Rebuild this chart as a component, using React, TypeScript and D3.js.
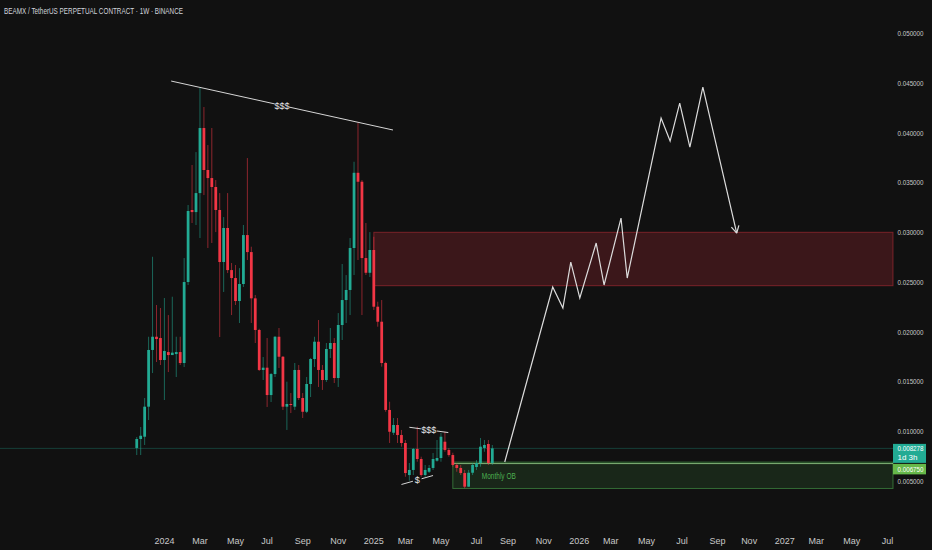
import * as d3 from 'd3';

const TITLE = 'BEAMX / TetherUS PERPETUAL CONTRACT · 1W · BINANCE';

// weekly candles, first bar opens on this Monday
const FIRST_WEEK = '2023-11-13';

const OPEN = [
  0.00832, 0.00922, 0.00945, 0.01247, 0.01817, 0.0195, 0.01937, 0.01716, 0.01796, 0.01766,
  0.01776, 0.01796, 0.01686, 0.025, 0.03224, 0.03203, 0.03394, 0.04048, 0.03626, 0.03545,
  0.03455, 0.03224, 0.02701, 0.03043, 0.0262, 0.0254, 0.02309, 0.0248, 0.02972, 0.02801,
  0.02336, 0.02018, 0.01616, 0.01639, 0.01364, 0.01575, 0.0195, 0.01749, 0.01247, 0.01274,
  0.01247, 0.01616, 0.01334, 0.01196, 0.01475, 0.01726, 0.019, 0.01616, 0.01515, 0.01827,
  0.01887, 0.01535, 0.02068, 0.02319, 0.0242, 0.02842, 0.03598, 0.03508, 0.02741, 0.02593,
  0.02822, 0.02252, 0.02101, 0.01686, 0.01214, 0.00985, 0.01063, 0.00962, 0.00882, 0.0056,
  0.00611, 0.00822, 0.00721, 0.0056, 0.00593, 0.00631, 0.00704, 0.00731, 0.00895, 0.00812,
  0.00761, 0.00661, 0.00631, 0.0058, 0.00443, 0.00583, 0.00641, 0.00681, 0.00832, 0.00872,
  0.00681,
];
const HIGH = [
  0.00942, 0.01043, 0.01334, 0.0195, 0.02754, 0.02269, 0.02239, 0.02339, 0.02168, 0.02352,
  0.0195, 0.0195, 0.02741, 0.03274, 0.03676, 0.03806, 0.0445, 0.04259, 0.03877, 0.04048,
  0.03525, 0.03394, 0.03153, 0.03394, 0.02691, 0.02671, 0.0264, 0.03073, 0.03746, 0.02855,
  0.0237, 0.0203, 0.01746, 0.01937, 0.01585, 0.01957, 0.02038, 0.01756, 0.01498, 0.01384,
  0.01686, 0.01666, 0.01384, 0.01545, 0.01736, 0.0195, 0.02118, 0.01666, 0.01887, 0.02038,
  0.01937, 0.02188, 0.02681, 0.0257, 0.02942, 0.03709, 0.04098, 0.03525, 0.03093, 0.03002,
  0.02955, 0.02302, 0.02319, 0.01699, 0.01297, 0.01133, 0.01133, 0.01013, 0.00912, 0.00681,
  0.00832, 0.01046, 0.00744, 0.00661, 0.00661, 0.00781, 0.00912, 0.00982, 0.00995, 0.00832,
  0.00784, 0.00681, 0.00661, 0.00611, 0.00611, 0.00681, 0.00711, 0.00932, 0.00912, 0.00912,
  0.00862,
];
const LOW = [
  0.00761, 0.00761, 0.00862, 0.01113, 0.01585, 0.01696, 0.01666, 0.01314, 0.01595, 0.01766,
  0.01545, 0.01666, 0.01646, 0.0247, 0.03093, 0.03073, 0.02942, 0.03374, 0.02842, 0.02892,
  0.03002, 0.01947, 0.024, 0.0259, 0.02168, 0.02269, 0.02088, 0.0245, 0.02721, 0.02088,
  0.01887, 0.01606, 0.01515, 0.01244, 0.01294, 0.01545, 0.01636, 0.01214, 0.01013, 0.01183,
  0.01214, 0.01314, 0.01133, 0.01183, 0.01344, 0.01646, 0.01445, 0.01415, 0.01495, 0.01736,
  0.01485, 0.01445, 0.01917, 0.02088, 0.02168, 0.0257, 0.02721, 0.02168, 0.0257, 0.0255,
  0.02219, 0.02051, 0.01649, 0.01196, 0.00882, 0.00962, 0.00882, 0.00845, 0.00543, 0.00503,
  0.0056, 0.00694, 0.00543, 0.00543, 0.0058, 0.00611, 0.00694, 0.00694, 0.00794, 0.00744,
  0.00644, 0.00593, 0.0056, 0.00427, 0.0044, 0.0056, 0.00611, 0.00644, 0.00794, 0.00661,
  0.00661,
];
const CLOSE = [
  0.00922, 0.00955, 0.01247, 0.01817, 0.0195, 0.01927, 0.01716, 0.01807, 0.01766, 0.0179,
  0.01796, 0.01686, 0.025, 0.03214, 0.03203, 0.03394, 0.04048, 0.03626, 0.03545, 0.03455,
  0.03224, 0.02701, 0.03043, 0.0262, 0.0254, 0.02309, 0.0248, 0.02972, 0.02801, 0.02336,
  0.02018, 0.01616, 0.01639, 0.01364, 0.01575, 0.0195, 0.01749, 0.01247, 0.01274, 0.01267,
  0.01616, 0.01334, 0.01196, 0.01475, 0.01726, 0.019, 0.01616, 0.01515, 0.01827, 0.01887,
  0.01535, 0.02068, 0.02319, 0.0242, 0.02842, 0.03598, 0.03508, 0.02741, 0.02593, 0.02822,
  0.02252, 0.02101, 0.01686, 0.01214, 0.00995, 0.01063, 0.00962, 0.00882, 0.0058, 0.00611,
  0.00822, 0.00721, 0.0056, 0.00611, 0.00631, 0.00721, 0.00731, 0.00945, 0.00812, 0.00761,
  0.00661, 0.00631, 0.0058, 0.00443, 0.00583, 0.00661, 0.00681, 0.00845, 0.00862, 0.00681,
  0.008278,
];

const PRICE_TICKS = [0.005, 0.01, 0.015, 0.02, 0.025, 0.03, 0.035, 0.04, 0.045, 0.05];
const LAST_PRICE = 0.008278;
const LAST_COUNTDOWN = '1d 3h';
const OB_PRICE = 0.00675;

// supply zone (red box) and monthly order block (green box)
const SUPPLY_FROM = '2025-01-06';
const SUPPLY_TOP = 0.03;
const SUPPLY_BOTTOM = 0.02463;
const OB_FROM = '2025-05-26';
const OB_TOP = 0.0069;
const OB_BOTTOM = 0.00425;
const OB_LABEL = 'Monthly OB';

// liquidity lines
const HIGHS_LINE_DATES = ['2024-01-13', '2025-02-09'];
const HIGHS_LINE_PRICES = [0.0452, 0.04028];
const RANGE_HIGH_DATES = ['2025-03-10', '2025-05-18'];
const RANGE_HIGH_PRICES = [0.0104, 0.00987];
const RANGE_LOW_DATES = ['2025-02-24', '2025-04-21'];
const RANGE_LOW_PRICES = [0.00465, 0.00555];

// projected path
const PROJ_DATES = [
  '2025-08-26', '2025-11-19', '2025-12-07', '2025-12-21', '2026-01-06', '2026-02-04',
  '2026-02-18', '2026-03-20', '2026-03-31', '2026-05-30', '2026-06-15', '2026-07-02',
  '2026-07-20', '2026-08-12', '2026-10-11',
];
const PROJ_PRICES = [
  0.00691, 0.0245, 0.02239, 0.02701, 0.02339, 0.02892, 0.0247, 0.03143, 0.0254, 0.04148,
  0.03917, 0.04299, 0.03857, 0.0446, 0.02992,
];

const W = 932;
const H = 550;
const PLOT_RIGHT = 893;
const BG = '#111111';
const UP = '#22ab94';
const DOWN = '#f23645';
const FONT = "'Liberation Sans Narrow', 'Liberation Sans', sans-serif";
const PRICE_W = 26;

const parse = d3.utcParse('%Y-%m-%d');

function GapLine({ x1, y1, x2, y2, label, gap }: { x1: number; y1: number; x2: number; y2: number; label: string; gap: number }) {
  const mx = (x1 + x2) / 2;
  const my = (y1 + y2) / 2;
  const len = Math.hypot(x2 - x1, y2 - y1);
  const ux = (x2 - x1) / len;
  const uy = (y2 - y1) / len;
  return (
    <g stroke="#d6d6d6" strokeWidth={1}>
      <line x1={x1} y1={y1} x2={mx - ux * gap} y2={my - uy * gap} />
      <line x1={mx + ux * gap} y1={my + uy * gap} x2={x2} y2={y2} />
      <text x={mx} y={my} dy="0.35em" textAnchor="middle" fill="#e6e6e6" stroke="none" fontSize={9} fontFamily={FONT}>
        {label}
      </text>
    </g>
  );
}

export default function App() {
  const x = d3.scaleUtc().domain([parse('2024-01-01')!, parse('2027-01-01')!]).range([164.4, 783]);
  const y = d3.scaleLinear().domain([0.005, 0.05]).range([481, 33.3]);

  const first = parse(FIRST_WEEK)!;
  const step = x(d3.utcWeek.offset(first, 1)) - x(first);
  const bodyW = step * 0.7;

  const candles = OPEN.map((o, i) => ({
    date: d3.utcDay.offset(first, 7 * i),
    o,
    h: HIGH[i],
    l: LOW[i],
    c: CLOSE[i],
  }));

  // axis labels every two months, at the first weekly bar of the month
  const months = d3.utcMonth
    .range(parse('2023-11-01')!, parse('2027-09-01')!)
    .filter((m) => m.getUTCMonth() % 2 === 0)
    .map((m) => ({ m, px: x(d3.utcMonday.ceil(m)) }))
    .filter((d) => d.px > 150 && d.px < 890);
  const fmtMonth = d3.utcFormat('%b');

  const projLine = d3
    .line<[string, number]>()
    .x((d) => x(parse(d[0])!))
    .y((d) => y(d[1]));
  const projPts: [string, number][] = PROJ_DATES.map((d, i) => [d, PROJ_PRICES[i]]);
  const n = projPts.length;
  const tipX = x(parse(PROJ_DATES[n - 1])!);
  const tipY = y(PROJ_PRICES[n - 1]);
  const prevX = x(parse(PROJ_DATES[n - 2])!);
  const prevY = y(PROJ_PRICES[n - 2]);
  const ang = Math.atan2(tipY - prevY, tipX - prevX);
  const head = [ang + Math.PI - 0.5, ang + Math.PI + 0.5].map((a) => [tipX + 8 * Math.cos(a), tipY + 8 * Math.sin(a)]);

  const pt = (d: string, p: number) => [x(parse(d)!), y(p)];
  const [h1x, h1y] = pt(HIGHS_LINE_DATES[0], HIGHS_LINE_PRICES[0]);
  const [h2x, h2y] = pt(HIGHS_LINE_DATES[1], HIGHS_LINE_PRICES[1]);
  const [r1x, r1y] = pt(RANGE_HIGH_DATES[0], RANGE_HIGH_PRICES[0]);
  const [r2x, r2y] = pt(RANGE_HIGH_DATES[1], RANGE_HIGH_PRICES[1]);
  const [l1x, l1y] = pt(RANGE_LOW_DATES[0], RANGE_LOW_PRICES[0]);
  const [l2x, l2y] = pt(RANGE_LOW_DATES[1], RANGE_LOW_PRICES[1]);

  const supX = x(parse(SUPPLY_FROM)!);
  const obX = x(parse(OB_FROM)!);
  const lastY = y(LAST_PRICE);

  return (
    <svg width={W} height={H} style={{ position: 'absolute', left: 0, top: 0, display: 'block' }}>
      <rect width={W} height={H} fill={BG} />

      <text x={4} y={14} fill="#d1d4dc" fontSize={9.5} fontFamily={FONT} textLength={179} lengthAdjust="spacingAndGlyphs">
        {TITLE}
      </text>

      {/* zones */}
      <rect
        x={supX}
        y={y(SUPPLY_TOP)}
        width={PLOT_RIGHT - supX}
        height={y(SUPPLY_BOTTOM) - y(SUPPLY_TOP)}
        fill={DOWN}
        fillOpacity={0.19}
        stroke={DOWN}
        strokeOpacity={0.4}
        strokeWidth={1}
      />
      <rect
        x={obX}
        y={y(OB_TOP)}
        width={PLOT_RIGHT - obX}
        height={y(OB_BOTTOM) - y(OB_TOP)}
        fill="#4caf50"
        fillOpacity={0.14}
        stroke="#4caf50"
        strokeOpacity={0.55}
        strokeWidth={1}
      />
      <line x1={obX} x2={PLOT_RIGHT} y1={y(OB_PRICE)} y2={y(OB_PRICE)} stroke="#9bd68f" strokeOpacity={0.8} strokeWidth={1} />
      <text
        x={obX + 29}
        y={y((OB_TOP + OB_BOTTOM) / 2) + 0.5}
        dy="0.35em"
        fill="#4caf50"
        fontSize={9.5}
        fontFamily={FONT}
        textLength={34}
        lengthAdjust="spacingAndGlyphs"
      >
        {OB_LABEL}
      </text>

      {/* last price line */}
      <line x1={0} x2={PLOT_RIGHT} y1={lastY} y2={lastY} stroke={UP} strokeOpacity={0.3} strokeWidth={1} />

      {/* candles */}
      {candles.map((d, i) => {
        const col = d.c >= d.o ? UP : DOWN;
        const cx = x(d.date);
        const top = y(Math.max(d.o, d.c));
        const bot = y(Math.min(d.o, d.c));
        return (
          <g key={i}>
            <line x1={cx} x2={cx} y1={y(d.h)} y2={y(d.l)} stroke={col} strokeOpacity={0.55} strokeWidth={1} />
            <rect x={cx - bodyW / 2} y={top} width={bodyW} height={Math.max(1, bot - top)} fill={col} />
          </g>
        );
      })}

      {/* liquidity annotations */}
      <GapLine x1={h1x} y1={h1y} x2={h2x} y2={h2y} label="$$$" gap={7.5} />
      <GapLine x1={r1x} y1={r1y} x2={r2x} y2={r2y} label="$$$" gap={8} />
      <GapLine x1={l1x} y1={l1y} x2={l2x} y2={l2y} label="$" gap={4.5} />

      {/* projection */}
      <path d={projLine(projPts) ?? ''} fill="none" stroke="#dcdcdc" strokeWidth={1.2} strokeLinejoin="miter" />
      {head.map(([hx, hy], i) => (
        <line key={i} x1={tipX} y1={tipY} x2={hx} y2={hy} stroke="#dcdcdc" strokeWidth={1.2} />
      ))}

      {/* price scale */}
      {PRICE_TICKS.map((t) => (
        <text
          key={t}
          x={897.5}
          y={y(t)}
          dy="0.35em"
          fill="#c8c8c8"
          fontSize={8}
          fontFamily={FONT}
          textLength={PRICE_W}
          lengthAdjust="spacingAndGlyphs"
        >
          {t.toFixed(6)}
        </text>
      ))}
      <rect x={PLOT_RIGHT} y={lastY - 4.5} width={33} height={19} fill={UP} />
      <text x={897.5} y={lastY} dy="0.35em" fill="#ffffff" fontSize={8} fontFamily={FONT} textLength={PRICE_W} lengthAdjust="spacingAndGlyphs">
        {LAST_PRICE.toFixed(6)}
      </text>
      <text x={897.5} y={lastY + 9} dy="0.35em" fill="#ffffff" fontSize={8} fontFamily={FONT}>
        {LAST_COUNTDOWN}
      </text>
      <rect x={PLOT_RIGHT} y={lastY + 15.5} width={33} height={10.5} fill="#66b84a" />
      <text x={897.5} y={lastY + 21} dy="0.35em" fill="#ffffff" fontSize={8} fontFamily={FONT} textLength={PRICE_W} lengthAdjust="spacingAndGlyphs">
        {OB_PRICE.toFixed(6)}
      </text>

      {/* time scale */}
      {months.map(({ m, px }) => (
        <text key={m.toISOString()} x={px} y={541} dy="0.35em" textAnchor="middle" fill="#c8c8c8" fontSize={9} fontFamily={FONT}>
          {m.getUTCMonth() === 0 ? m.getUTCFullYear() : fmtMonth(m)}
        </text>
      ))}
    </svg>
  );
}
